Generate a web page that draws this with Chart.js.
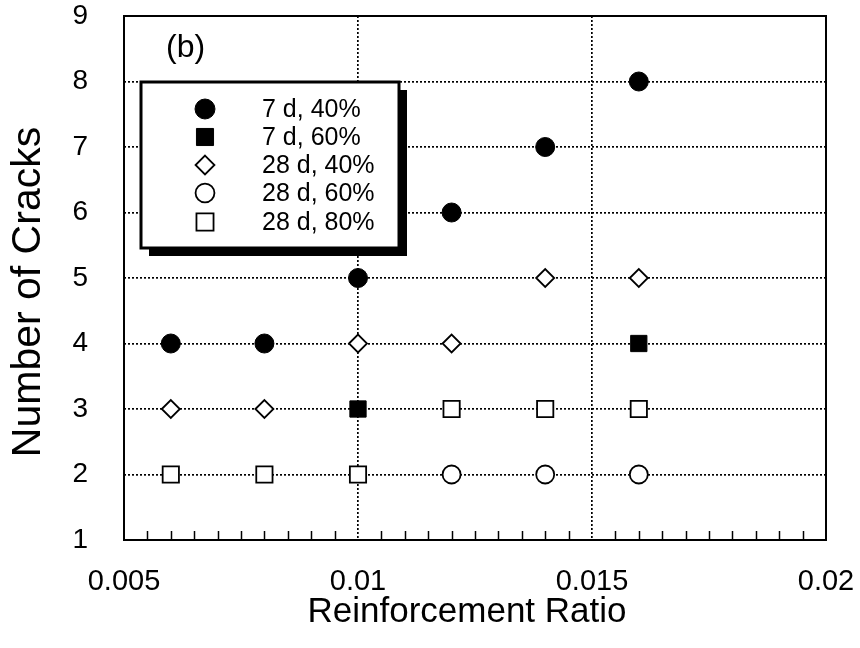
<!DOCTYPE html>
<html>
<head>
<meta charset="utf-8">
<script src="https://cdn.jsdelivr.net/npm/chart.js@4/dist/chart.umd.min.js"></script>
<style>
  html, body { margin: 0; padding: 0; background: #fff; }
  canvas { display: block; }
</style>
</head>
<body>
<canvas id="c" width="860" height="648"></canvas>
<script>
// Number of cracks vs. reinforcement ratio, by curing age and load level
const seriesNames = ['7 d, 40%', '7 d, 60%', '28 d, 40%', '28 d, 60%', '28 d, 80%'];

const ratio7d40  = [0.006, 0.008, 0.010, 0.012, 0.014, 0.016];
const cracks7d40 = [4, 4, 5, 6, 7, 8];

const ratio7d60  = [0.010, 0.016];
const cracks7d60 = [3, 4];

const ratio28d40  = [0.006, 0.008, 0.010, 0.012, 0.014, 0.016];
const cracks28d40 = [3, 3, 4, 4, 5, 5];

const ratio28d60  = [0.012, 0.014, 0.016];
const cracks28d60 = [2, 2, 2];

const ratio28d80  = [0.006, 0.008, 0.010, 0.012, 0.014, 0.016];
const cracks28d80 = [2, 2, 2, 3, 3, 3];

const xTicks = [0.005, 0.01, 0.015, 0.02];
const xTickLabels = ['0.005', '0.01', '0.015', '0.02'];
const yTicks = [1, 2, 3, 4, 5, 6, 7, 8, 9];

const FONT = '"Liberation Sans", Arial, Helvetica, sans-serif';

// marker look for each series
const markers = [
  { style: 'circle',  radius: 9.5,  fill: '#000', stroke: '#000', width: 1 },
  { style: 'rect',    radius: 11.5, fill: '#000', stroke: '#000', width: 1 },
  { style: 'rectRot', radius: 9,    fill: '#fff', stroke: '#000', width: 1.8 },
  { style: 'circle',  radius: 9,    fill: '#fff', stroke: '#000', width: 1.8 },
  { style: 'rect',    radius: 11.5, fill: '#fff', stroke: '#000', width: 1.8 }
];

const xs = [ratio7d40, ratio7d60, ratio28d40, ratio28d60, ratio28d80];
const ys = [cracks7d40, cracks7d60, cracks28d40, cracks28d60, cracks28d80];

const datasets = seriesNames.map((name, i) => ({
  label: name,
  data: xs[i].map((x, j) => ({ x: x, y: ys[i][j] })),
  showLine: false,
  pointStyle: markers[i].style,
  pointRadius: markers[i].radius,
  pointHoverRadius: markers[i].radius,
  pointBackgroundColor: markers[i].fill,
  pointBorderColor: markers[i].stroke,
  pointBorderWidth: markers[i].width
}));

function drawMarker(ctx, m, x, y, scale) {
  const r = m.radius * scale;
  ctx.save();
  ctx.beginPath();
  if (m.style === 'circle') {
    ctx.arc(x, y, r, 0, Math.PI * 2);
  } else if (m.style === 'rect') {
    const h = Math.SQRT1_2 * r;
    ctx.rect(x - h, y - h, 2 * h, 2 * h);
  } else {
    ctx.moveTo(x, y - r); ctx.lineTo(x + r, y); ctx.lineTo(x, y + r); ctx.lineTo(x - r, y);
    ctx.closePath();
  }
  ctx.fillStyle = m.fill;
  ctx.fill();
  ctx.lineWidth = m.width;
  ctx.strokeStyle = m.stroke;
  ctx.stroke();
  ctx.restore();
}

// fixed axis box sizes; edge label overflow is left to the layout padding
function fixBox(size, horizontal) {
  return s => {
    if (horizontal) s.height = size; else s.width = size;
    s.paddingLeft = 0; s.paddingRight = 0; s.paddingTop = 0; s.paddingBottom = 0;
  };
}

const decorations = {
  id: 'decorations',
  beforeDatasetsDraw(chart) {
    const { ctx, chartArea: a, scales: { x } } = chart;
    // small inward ticks along the bottom axis every 0.0005
    ctx.save();
    ctx.strokeStyle = '#000';
    ctx.lineWidth = 1.5;
    for (let k = 10; k <= 40; k++) {
      if (k % 10 === 0) continue;
      const px = Math.round(x.getPixelForValue(k * 0.0005)) + 0.5;
      ctx.beginPath();
      ctx.moveTo(px, a.bottom);
      ctx.lineTo(px, a.bottom - 9);
      ctx.stroke();
    }
    // plot frame
    ctx.lineWidth = 2;
    ctx.strokeRect(a.left, a.top, a.right - a.left, a.bottom - a.top);
    ctx.restore();
  },
  afterDraw(chart) {
    const { ctx } = chart;
    ctx.save();

    // panel tag
    ctx.fillStyle = '#000';
    ctx.font = '32px ' + FONT;
    ctx.textBaseline = 'middle';
    ctx.textAlign = 'left';
    ctx.fillText('(b)', 166, 48);

    // legend box with drop shadow
    const bx = 141, by = 82, bw = 258, bh = 166;
    ctx.fillStyle = '#000';
    ctx.fillRect(bx + 8, by + 8, bw, bh);
    ctx.fillStyle = '#fff';
    ctx.fillRect(bx, by, bw, bh);
    ctx.lineWidth = 3;
    ctx.strokeStyle = '#000';
    ctx.strokeRect(bx, by, bw, bh);

    const rowY = [109, 137, 165, 193, 222];
    ctx.font = '25px ' + FONT;
    ctx.textBaseline = 'middle';
    seriesNames.forEach((name, i) => {
      drawMarker(ctx, markers[i], 205, rowY[i], 1.05);
      ctx.fillStyle = '#000';
      ctx.fillText(name, 262, rowY[i] + 1);
    });

    // axis titles
    ctx.fillStyle = '#000';
    ctx.font = '35px ' + FONT;
    ctx.textAlign = 'center';
    ctx.textBaseline = 'middle';
    ctx.fillText('Reinforcement Ratio', 467, 612);
    ctx.translate(29, 292);
    ctx.rotate(-Math.PI / 2);
    ctx.font = '41px ' + FONT;
    ctx.fillText('Number of Cracks', 0, 0);

    ctx.restore();
  }
};

new Chart(document.getElementById('c').getContext('2d'), {
  type: 'scatter',
  data: { datasets: datasets },
  options: {
    responsive: false,
    devicePixelRatio: 1,
    animation: false,
    layout: { autoPadding: false, padding: { top: 16, right: 34, left: 0, bottom: 0 } },
    plugins: { legend: { display: false }, tooltip: { enabled: false } },
    scales: {
      x: {
        type: 'linear',
        min: 0.005,
        max: 0.02,
        afterBuildTicks: s => { s.ticks = xTicks.map(v => ({ value: v })); },
        afterFit: fixBox(108, true),
        ticks: {
          color: '#000',
          font: { family: FONT, size: 29 },
          padding: 25,
          maxRotation: 0,
          autoSkip: false,
          callback: (v, i) => xTickLabels[i]
        },
        grid: {
          drawTicks: false,
          lineWidth: 1.7,
          color: c => (c.tick && c.tick.value > 0.0051 && c.tick.value < 0.0199) ? '#000' : 'rgba(0,0,0,0)'
        },
        border: { display: false, dash: [2, 2] }
      },
      y: {
        type: 'linear',
        min: 1,
        max: 9,
        afterBuildTicks: s => { s.ticks = yTicks.map(v => ({ value: v })); },
        afterFit: fixBox(124, false),
        ticks: {
          color: '#000',
          font: { family: FONT, size: 28 },
          padding: 36,
          callback: v => String(v)
        },
        grid: {
          drawTicks: false,
          lineWidth: 1.7,
          color: c => (c.tick && c.tick.value > 1 && c.tick.value < 9) ? '#000' : 'rgba(0,0,0,0)'
        },
        border: { display: false, dash: [2, 2] }
      }
    }
  },
  plugins: [decorations]
});
</script>
</body>
</html>
